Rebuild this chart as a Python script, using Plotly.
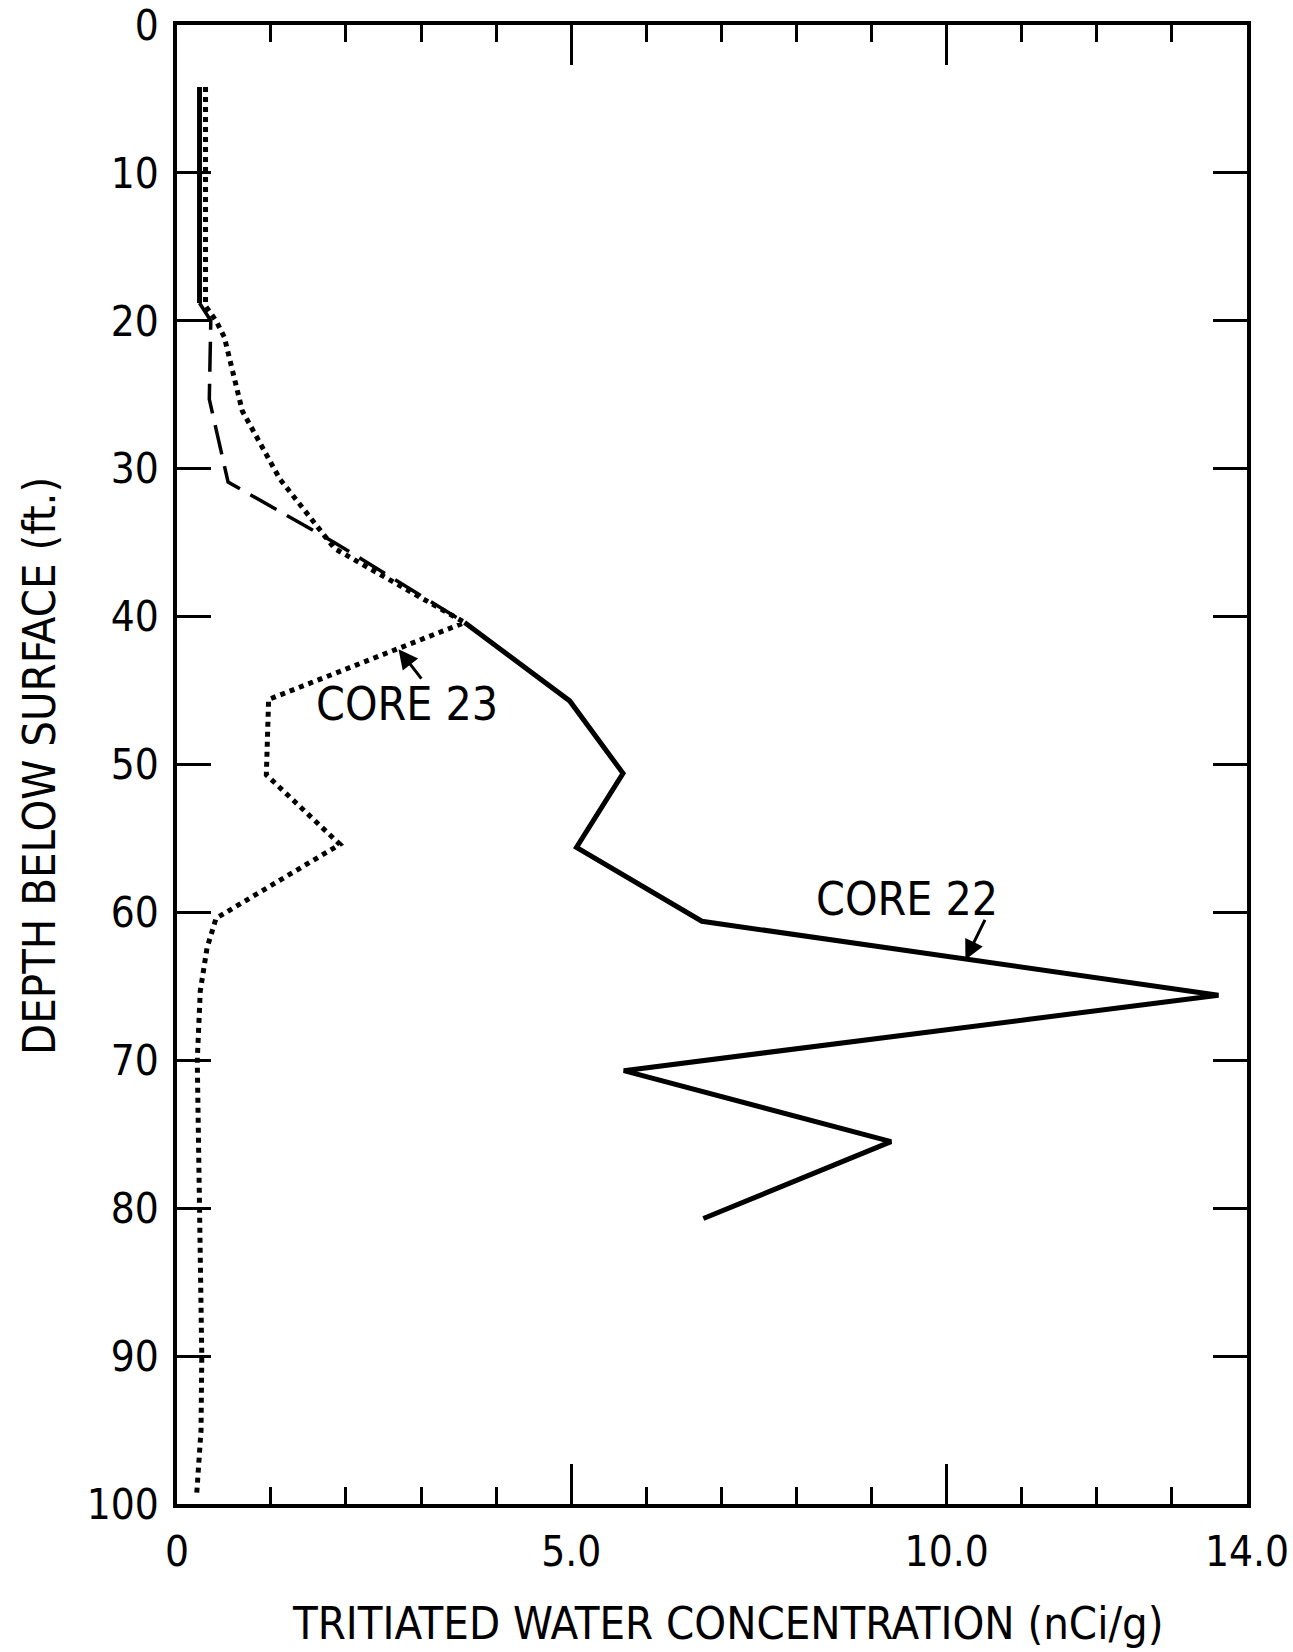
import plotly.graph_objects as go

# ---------------- data ----------------
# Core 22, upper solid part
c22_top_depth = [4.2, 18.8]
c22_top_conc = [0.05, 0.05]
# Core 22, dashed part
c22_mid_depth = [18.8, 20.0, 25.3, 30.9, 35.0, 40.4]
c22_mid_conc = [0.05, 0.20, 0.18, 0.43, 1.85, 3.58]
# Core 22, lower solid part
c22_low_depth = [40.4, 45.7, 50.6, 55.6, 60.6, 65.6, 70.7, 75.5, 80.7]
c22_low_conc = [3.58, 4.98, 5.69, 5.07, 6.74, 13.62, 5.70, 9.26, 6.76]
# Core 23 (dotted)
c23_depth = [4.2, 19.0, 20.0, 21.1, 26.1, 30.7, 35.4, 40.4, 45.6, 50.7, 55.4,
             60.4, 62.4, 65.3, 70.0, 80.0, 90.0, 95.0, 99.5]
c23_conc = [0.13, 0.13, 0.27, 0.38, 0.62, 1.12, 1.85, 3.58, 0.97, 0.94, 1.92,
            0.27, 0.15, 0.06, 0.02, 0.05, 0.08, 0.07, 0.01]

x_label_vals = [-0.25, 5, 10, 14]
x_label_text = ["0", "5.0", "10.0", "14.0"]
x_minor_vals = [1, 2, 3, 4, 6, 7, 8, 9, 11, 12, 13]
y_tick_vals = [0, 10, 20, 30, 40, 50, 60, 70, 80, 90, 100]

FONT = "Liberation Sans Narrow, DejaVu Sans Condensed, Roboto Condensed, Liberation Sans, sans-serif"

fig = go.Figure()
fig.add_trace(go.Scatter(x=c23_conc, y=c23_depth, mode="lines",
                         line=dict(color="black", width=5, dash="5px,5px"),
                         name="CORE 23"))
fig.add_trace(go.Scatter(x=c22_mid_conc, y=c22_mid_depth, mode="lines",
                         line=dict(color="black", width=3.5, dash="30px,12px"),
                         name="CORE 22 (dashed)"))
fig.add_trace(go.Scatter(x=c22_top_conc, y=c22_top_depth, mode="lines",
                         line=dict(color="black", width=5), name="CORE 22 top"))
fig.add_trace(go.Scatter(x=c22_low_conc, y=c22_low_depth, mode="lines",
                         line=dict(color="black", width=5), name="CORE 22"))

# labels and arrows
fig.add_annotation(x=2.70, y=42.2, ax=3.02, ay=44.3, axref="x", ayref="y",
                   xref="x", yref="y", text="", showarrow=True, standoff=0,
                   arrowhead=2, arrowsize=1.3, arrowwidth=3, arrowcolor="black")
fig.add_annotation(x=2.81, y=45.9, xref="x", yref="y", text="CORE 23",
                   showarrow=False, font=dict(family=FONT, size=46, color="black"))
fig.add_annotation(x=10.25, y=63.2, ax=10.52, ay=60.4, axref="x", ayref="y",
                   xref="x", yref="y", text="", showarrow=True, standoff=0,
                   arrowhead=2, arrowsize=1.3, arrowwidth=3, arrowcolor="black")
fig.add_annotation(x=9.47, y=59.1, xref="x", yref="y", text="CORE 22",
                   showarrow=False, font=dict(family=FONT, size=46, color="black"))

# axis titles
fig.add_annotation(x=0.515, y=-0.0805, xref="paper", yref="paper",
                   text="TRITIATED WATER CONCENTRATION (nCi/g)", showarrow=False,
                   xanchor="center", yanchor="middle",
                   font=dict(family=FONT, size=45, color="black"))
fig.add_annotation(x=-0.128, y=0.499, xref="paper", yref="paper",
                   text="DEPTH BELOW SURFACE (ft.)", showarrow=False, textangle=-90,
                   xanchor="center", yanchor="middle",
                   font=dict(family=FONT, size=45, color="black"))

fig.update_xaxes(range=[-0.25, 14.0], tickmode="array", tickvals=x_label_vals,
                 ticktext=x_label_text, ticks="inside", ticklen=40, tickwidth=3,
                 tickcolor="black", showline=True, linewidth=3.5, linecolor="black",
                 mirror="ticks", showgrid=False, zeroline=False, automargin=False,
                 tickfont=dict(family=FONT, size=42, color="black"),
                 ticklabelstandoff=8, ticklabeloverflow="allow",
                 minor=dict(tickmode="array", tickvals=x_minor_vals, ticks="inside",
                            ticklen=17, tickwidth=3, tickcolor="black", showgrid=False))
fig.update_yaxes(range=[100, 0], tickmode="array", tickvals=y_tick_vals,
                 ticks="inside", ticklen=34, tickwidth=3, tickcolor="black",
                 showline=True, linewidth=3.5, linecolor="black", mirror="ticks",
                 showgrid=False, zeroline=False, automargin=False,
                 tickfont=dict(family=FONT, size=42, color="black"),
                 ticklabelstandoff=6, ticklabeloverflow="allow")
fig.update_layout(width=1293, height=1652, showlegend=False,
                  margin=dict(l=177, r=46, t=25, b=148, autoexpand=False),
                  paper_bgcolor="white", plot_bgcolor="white")
fig.write_html("out.html", config={"displayModeBar": False},
               post_script="document.body.style.margin='0';")
